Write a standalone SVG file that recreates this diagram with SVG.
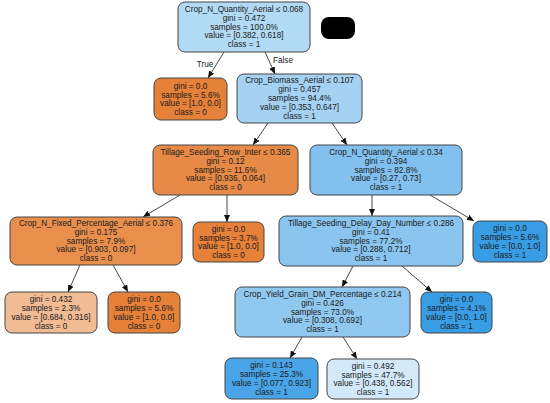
<svg xmlns="http://www.w3.org/2000/svg" width="550" height="403" viewBox="0 0 550 403">
<defs>
<marker id="arr" markerWidth="7" markerHeight="6" refX="7" refY="3" orient="auto" markerUnits="userSpaceOnUse">
<path d="M0,0 L7,3 L0,6 Z" fill="#111"/>
</marker>
<style>
rect.n{stroke:#444;stroke-width:1}
text{font-family:"Liberation Sans",Arial,sans-serif;font-size:8.2px;fill:#1a1a1a;text-anchor:middle}
line.e{stroke:#333;stroke-width:0.9;marker-end:url(#arr)}
.o0{fill:#e58139}.o1{fill:#e78a47}.o2{fill:#e88f4e}.o3{fill:#f1bb94}
.b0{fill:#399de5}.b1{fill:#b3daf5}.b2{fill:#a5d2f3}.b3{fill:#82c1ef}.b4{fill:#89c5ef}.b5{fill:#91c8f0}.b6{fill:#49a5e7}.b7{fill:#d3e9f9}
</style>
</defs>
<rect width="550" height="403" fill="#ffffff"/>
<g id="connectors">
<line class="e" x1="224" y1="52" x2="208" y2="78"/>
<line class="e" x1="265" y1="52" x2="275" y2="74"/>
<line class="e" x1="268" y1="123" x2="253" y2="145"/>
<line class="e" x1="332" y1="123" x2="347" y2="145"/>
<line class="e" x1="180" y1="195" x2="143" y2="217"/>
<line class="e" x1="227" y1="195" x2="227" y2="222"/>
<line class="e" x1="372" y1="195" x2="372" y2="216"/>
<line class="e" x1="430" y1="195" x2="474" y2="221"/>
<line class="e" x1="80" y1="265" x2="68" y2="292"/>
<line class="e" x1="113" y1="265" x2="128" y2="292"/>
<line class="e" x1="353" y1="266" x2="342" y2="287"/>
<line class="e" x1="402" y1="266" x2="432" y2="292"/>
<line class="e" x1="302" y1="337" x2="290" y2="358"/>
<line class="e" x1="343" y1="337" x2="357" y2="359"/>
<text x="205" y="67">True</text>
<text x="283" y="63">False</text>
</g>
<g id="blackmark"><rect x="321" y="17" width="34" height="22" rx="8" fill="#000"/></g>
<g id="n0"><rect class="n b1" x="178" y="2" width="132" height="50" rx="7"/>
<text x="244" y="11.7">Crop_N_Quantity_Aerial ≤ 0.068</text><text x="244" y="20.6">gini = 0.472</text><text x="244" y="29.5">samples = 100.0%</text><text x="244" y="38.4">value = [0.382, 0.618]</text><text x="244" y="47.3">class = 1</text></g>
<g id="n1"><rect class="n o0" x="154" y="78" width="73" height="42" rx="7"/>
<text x="190.5" y="88.65">gini = 0.0</text><text x="190.5" y="97.55">samples = 5.6%</text><text x="190.5" y="106.45">value = [1.0, 0.0]</text><text x="190.5" y="115.35">class = 0</text></g>
<g id="n2"><rect class="n b2" x="237" y="74" width="125" height="49" rx="7"/>
<text x="299.5" y="83.2">Crop_Biomass_Aerial ≤ 0.107</text><text x="299.5" y="92.1">gini = 0.457</text><text x="299.5" y="101">samples = 94.4%</text><text x="299.5" y="109.9">value = [0.353, 0.647]</text><text x="299.5" y="118.8">class = 1</text></g>
<g id="n3"><rect class="n o1" x="153" y="145" width="145" height="50" rx="7"/>
<text x="225.5" y="154.7">Tillage_Seeding_Row_Inter ≤ 0.365</text><text x="225.5" y="163.6">gini = 0.12</text><text x="225.5" y="172.5">samples = 11.6%</text><text x="225.5" y="181.4">value = [0.936, 0.064]</text><text x="225.5" y="190.3">class = 0</text></g>
<g id="n4"><rect class="n b3" x="310" y="145" width="152" height="50" rx="7"/>
<text x="386" y="154.7">Crop_N_Quantity_Aerial ≤ 0.34</text><text x="386" y="163.6">gini = 0.394</text><text x="386" y="172.5">samples = 82.8%</text><text x="386" y="181.4">value = [0.27, 0.73]</text><text x="386" y="190.3">class = 1</text></g>
<g id="n5"><rect class="n o2" x="10" y="217" width="172" height="48" rx="7"/>
<text x="96" y="225.7">Crop_N_Fixed_Percentage_Aerial ≤ 0.376</text><text x="96" y="234.6">gini = 0.175</text><text x="96" y="243.5">samples = 7.9%</text><text x="96" y="252.4">value = [0.903, 0.097]</text><text x="96" y="261.3">class = 0</text></g>
<g id="n6"><rect class="n o0" x="193" y="222" width="71" height="40" rx="7"/>
<text x="228.5" y="231.65">gini = 0.0</text><text x="228.5" y="240.55">samples = 3.7%</text><text x="228.5" y="249.45">value = [1.0, 0.0]</text><text x="228.5" y="258.35">class = 0</text></g>
<g id="n7"><rect class="n b4" x="279" y="216" width="184" height="50" rx="7"/>
<text x="371" y="225.7">Tillage_Seeding_Delay_Day_Number ≤ 0.286</text><text x="371" y="234.6">gini = 0.41</text><text x="371" y="243.5">samples = 77.2%</text><text x="371" y="252.4">value = [0.288, 0.712]</text><text x="371" y="261.3">class = 1</text></g>
<g id="n8"><rect class="n b0" x="473" y="221" width="74" height="41" rx="7"/>
<text x="510" y="231.15">gini = 0.0</text><text x="510" y="240.05">samples = 5.6%</text><text x="510" y="248.95">value = [0.0, 1.0]</text><text x="510" y="257.85">class = 1</text></g>
<g id="n9"><rect class="n o3" x="5" y="292" width="92" height="41" rx="7"/>
<text x="51" y="302.15">gini = 0.432</text><text x="51" y="311.05">samples = 2.3%</text><text x="51" y="319.95">value = [0.684, 0.316]</text><text x="51" y="328.85">class = 0</text></g>
<g id="n10"><rect class="n o0" x="108" y="292" width="72" height="41" rx="7"/>
<text x="144" y="302.15">gini = 0.0</text><text x="144" y="311.05">samples = 5.6%</text><text x="144" y="319.95">value = [1.0, 0.0]</text><text x="144" y="328.85">class = 0</text></g>
<g id="n11"><rect class="n b5" x="235" y="287" width="175" height="50" rx="7"/>
<text x="322.5" y="296.7">Crop_Yield_Grain_DM_Percentage ≤ 0.214</text><text x="322.5" y="305.6">gini = 0.426</text><text x="322.5" y="314.5">samples = 73.0%</text><text x="322.5" y="323.4">value = [0.308, 0.692]</text><text x="322.5" y="332.3">class = 1</text></g>
<g id="n12"><rect class="n b0" x="421" y="292" width="71" height="41" rx="7"/>
<text x="456.5" y="302.15">gini = 0.0</text><text x="456.5" y="311.05">samples = 4.1%</text><text x="456.5" y="319.95">value = [0.0, 1.0]</text><text x="456.5" y="328.85">class = 1</text></g>
<g id="n13"><rect class="n b6" x="225" y="358" width="93" height="41" rx="7"/>
<text x="271.5" y="368.15">gini = 0.143</text><text x="271.5" y="377.05">samples = 25.3%</text><text x="271.5" y="385.95">value = [0.077, 0.923]</text><text x="271.5" y="394.85">class = 1</text></g>
<g id="n14"><rect class="n b7" x="327" y="359" width="92" height="40" rx="7"/>
<text x="373" y="368.65">gini = 0.492</text><text x="373" y="377.55">samples = 47.7%</text><text x="373" y="386.45">value = [0.438, 0.562]</text><text x="373" y="395.35">class = 1</text></g>
</svg>
